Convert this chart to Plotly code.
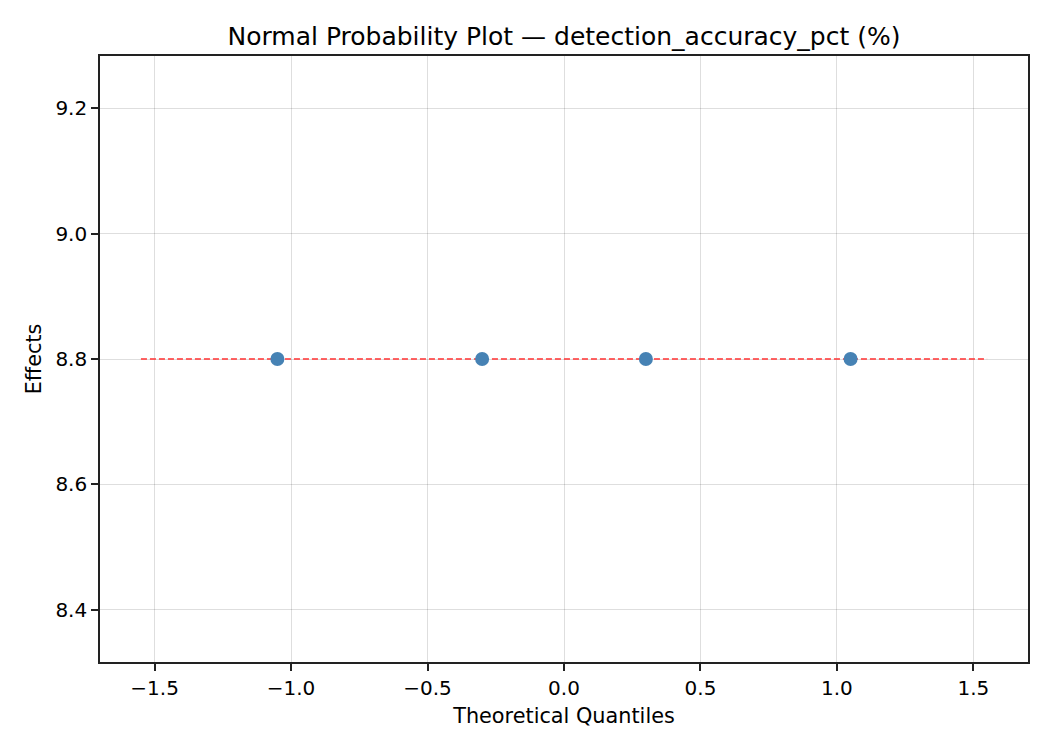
import plotly.graph_objects as go

# theoretical normal quantiles vs effects
quantiles = [-1.05, -0.30, 0.30, 1.05]
effects = [8.8, 8.8, 8.8, 8.8]
ref_x = [-1.55, 1.55]
ref_y = [8.8, 8.8]

x_ticks = [-1.5, -1.0, -0.5, 0.0, 0.5, 1.0, 1.5]
y_ticks = [8.4, 8.6, 8.8, 9.0, 9.2]

fig = go.Figure()
fig.add_trace(go.Scatter(x=ref_x, y=ref_y, mode="lines",
                         line=dict(color="rgba(255,60,60,0.8)", width=1.8, dash="6px,3px"),
                         showlegend=False))
fig.add_trace(go.Scatter(x=quantiles, y=effects, mode="markers",
                         marker=dict(color="#4682b4", size=14),
                         showlegend=False))

axis_style = dict(showline=True, linecolor="#222", linewidth=1.6, mirror=True,
                  ticks="outside", ticklen=7, tickwidth=1.6, tickcolor="#222",
                  showgrid=True, gridcolor="rgba(0,0,0,0.13)", gridwidth=1.4,
                  zeroline=False, tickfont=dict(size=20, color="black"))

fig.update_xaxes(range=[-1.70, 1.70], tickvals=x_ticks,
                 ticktext=["\u22121.5", "\u22121.0", "\u22120.5", "0.0", "0.5", "1.0", "1.5"],
                 title=dict(text="Theoretical Quantiles", font=dict(size=20.8, color="black"), standoff=10),
                 **axis_style)
fig.update_yaxes(range=[8.317, 9.283], tickvals=y_ticks,
                 ticktext=["8.4", "8.6", "8.8", "9.0", "9.2"],
                 title=dict(text="Effects", font=dict(size=20.8, color="black"), standoff=8),
                 **axis_style)

fig.update_layout(
    width=1034, height=734,
    font=dict(family="DejaVu Sans", color="black"),
    title=dict(text="Normal Probability Plot \u2014 detection_accuracy_pct (%)",
               xref="paper", x=0.5, xanchor="center", y=0.962, yanchor="middle",
               font=dict(size=25, color="black")),
    margin=dict(l=92, r=14, t=48, b=80),
    plot_bgcolor="white", paper_bgcolor="white",
)

fig.write_html("out.html")
